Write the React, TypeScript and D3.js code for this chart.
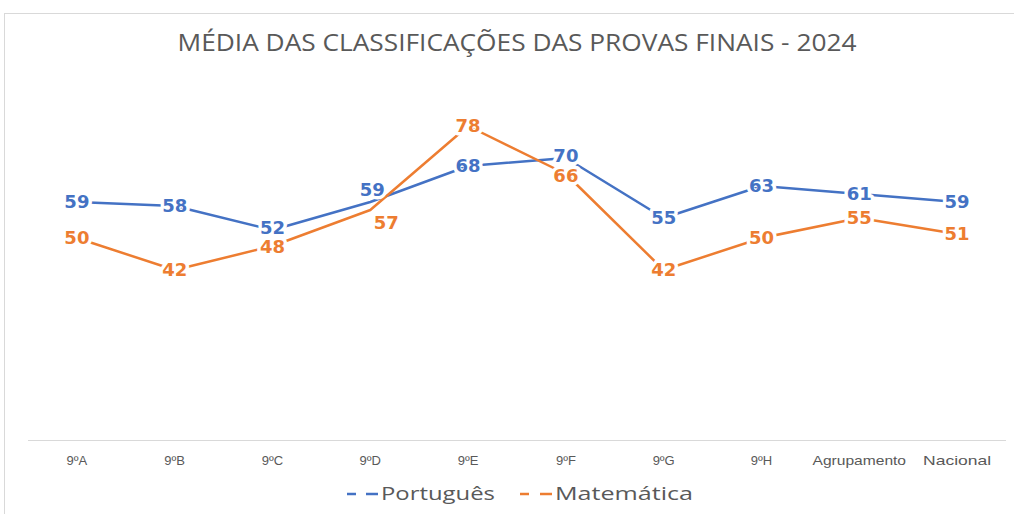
import React from "react";
import * as d3 from "d3";

const categories = ["9ºA", "9ºB", "9ºC", "9ºD", "9ºE", "9ºF", "9ºG", "9ºH", "Agrupamento", "Nacional"];
const portugues = [59, 58, 52, 59, 68, 70, 55, 63, 61, 59];
const matematica = [50, 42, 48, 57, 78, 66, 42, 50, 55, 51];
const seriesNames = ["Português", "Matemática"];
const title = "MÉDIA DAS CLASSIFICAÇÕES DAS PROVAS FINAIS - 2024";

// label offsets (dx, dy) where Excel moved labels to avoid overlap
const portOffsets: Record<number, [number, number]> = { 2: [0, -2], 3: [2, -12], 5: [0, -2] };
const matOffsets: Record<number, [number, number]> = { 2: [0, 1], 3: [16, 13], 5: [0, 2] };

const W = 1014;
const H = 514;
const BLUE = "#4472C4";
const ORANGE = "#ED7D31";

export default function App() {
  const x = d3.scaleBand<string>().domain(categories).range([28, 1006]);
  const y = d3.scaleLinear().domain([0, 100]).range([438, 38]);
  const cx = (c: string) => (x(c) as number) + x.bandwidth() / 2;

  const line = d3
    .line<number>()
    .x((_, i) => cx(categories[i]))
    .y((v) => y(v));

  const series = [
    { name: seriesNames[0], values: portugues, color: BLUE, offsets: portOffsets },
    { name: seriesNames[1], values: matematica, color: ORANGE, offsets: matOffsets },
  ];

  return (
    <svg width={W} height={H} style={{ position: "absolute", left: 0, top: 0, background: "#fff" }}>
      <rect x={0} y={0} width={W} height={H} fill="#fff" />
      <rect x={4.5} y={13.5} width={W + 10} height={H + 10} fill="none" stroke="#d9d9d9" strokeWidth={1} />
      <text
        x={517}
        y={51}
        textAnchor="middle"
        fontFamily="'Open Sans', sans-serif"
        fontSize={24}
        fill="#595959"
        textLength={679}
        lengthAdjust="spacingAndGlyphs"
      >
        {title}
      </text>

      {/* axis line */}
      <line x1={28} x2={1006} y1={y(0) + 2.5} y2={y(0) + 2.5} stroke="#d9d9d9" strokeWidth={1} />
      {categories.map((c) => (
        <text
          key={c}
          x={cx(c)}
          y={465}
          textAnchor="middle"
          fontFamily="'Liberation Sans', Arial, sans-serif"
          fontSize={13}
          fill="#595959"
          textLength={c.length > 4 ? c.length * 8.5 : undefined}
          lengthAdjust="spacingAndGlyphs"
        >
          {c}
        </text>
      ))}

      {series.map((s) => (
        <path key={s.name} d={line(s.values) || ""} fill="none" stroke={s.color} strokeWidth={2.5} strokeLinejoin="round" />
      ))}

      {series.map((s) =>
        s.values.map((v, i) => {
          const off = s.offsets[i] || [0, 0];
          return (
            <text
              key={s.name + i}
              x={cx(categories[i]) + off[0]}
              y={y(v) + off[1]}
              dy="0.36em"
              textAnchor="middle"
              fontFamily="'DejaVu Sans', Verdana, sans-serif"
              fontWeight="bold"
              fontSize={18}
              fill={s.color}
              stroke="#fff"
              strokeWidth={7}
              strokeLinejoin="round"
              paintOrder="stroke"
            >
              {v}
            </text>
          );
        })
      )}

      {/* legend */}
      <g>
        <line x1={347} x2={356} y1={494} y2={494} stroke={BLUE} strokeWidth={2.5} />
        <line x1={366} x2={378} y1={494} y2={494} stroke={BLUE} strokeWidth={2.5} />
        <text x={381} y={500} fontFamily="'Open Sans', sans-serif" fontSize={19} fill="#595959" textLength={114} lengthAdjust="spacingAndGlyphs">
          {seriesNames[0]}
        </text>
        <line x1={520} x2={529} y1={494} y2={494} stroke={ORANGE} strokeWidth={2.5} />
        <line x1={540} x2={552} y1={494} y2={494} stroke={ORANGE} strokeWidth={2.5} />
        <text x={555} y={500} fontFamily="'Open Sans', sans-serif" fontSize={19} fill="#595959" textLength={138} lengthAdjust="spacingAndGlyphs">
          {seriesNames[1]}
        </text>
      </g>
    </svg>
  );
}
